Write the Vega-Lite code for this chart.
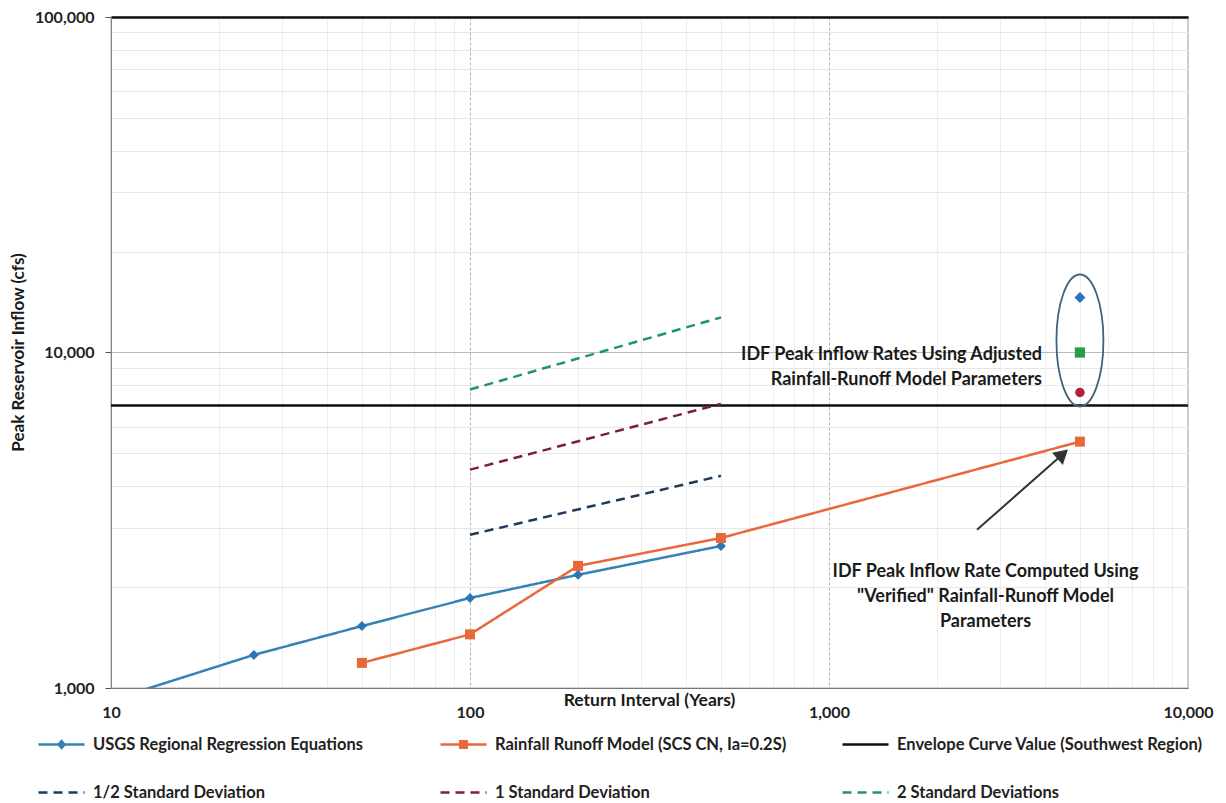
{
  "$schema": "https://vega.github.io/schema/vega-lite/v6.json",
  "autosize": {"type": "none"},
  "padding": {"left": 111, "top": 17, "right": 38, "bottom": 115},
  "width": 1077,
  "height": 671,
  "background": "white",
  "config": {
    "font": "Lato",
    "view": {"stroke": "#666", "strokeWidth": 1.2}
  },
  "datasets": {
    "lines": [
      {"series": "USGS Regional Regression Equations", "x": 10, "y": 920},
      {"series": "USGS Regional Regression Equations", "x": 25, "y": 1255},
      {"series": "USGS Regional Regression Equations", "x": 50, "y": 1530},
      {"series": "USGS Regional Regression Equations", "x": 100, "y": 1855},
      {"series": "USGS Regional Regression Equations", "x": 200, "y": 2175},
      {"series": "USGS Regional Regression Equations", "x": 500, "y": 2650},
      {"series": "Rainfall Runoff Model (SCS CN, Ia=0.2S)", "x": 50, "y": 1188},
      {"series": "Rainfall Runoff Model (SCS CN, Ia=0.2S)", "x": 100, "y": 1445},
      {"series": "Rainfall Runoff Model (SCS CN, Ia=0.2S)", "x": 200, "y": 2312},
      {"series": "Rainfall Runoff Model (SCS CN, Ia=0.2S)", "x": 500, "y": 2800},
      {"series": "Rainfall Runoff Model (SCS CN, Ia=0.2S)", "x": 5000, "y": 5425},
      {"series": "Envelope Curve Value (Southwest Region)", "x": 10, "y": 6950},
      {"series": "Envelope Curve Value (Southwest Region)", "x": 10000, "y": 6950},
      {"series": "1/2 Standard Deviation", "x": 100, "y": 2862},
      {"series": "1/2 Standard Deviation", "x": 500, "y": 4290},
      {"series": "1 Standard Deviation", "x": 100, "y": 4475},
      {"series": "1 Standard Deviation", "x": 500, "y": 7030},
      {"series": "2 Standard Deviations", "x": 100, "y": 7757},
      {"series": "2 Standard Deviations", "x": 500, "y": 12720}
    ],
    "idf": [
      {"kind": "high", "x": 5000, "y": 14590},
      {"kind": "mid", "x": 5000, "y": 10000},
      {"kind": "low", "x": 5000, "y": 7600}
    ],
    "oval": [{"x": 5000, "y": 10860}],
    "noteRight": [{"x": 3920, "y": 9830, "text": "IDF Peak  Inflow Rates Using Adjusted\nRainfall-Runoff Model Parameters"}],
    "noteCenter": [{"x": 2729, "y": 2220, "text": "IDF Peak  Inflow Rate Computed Using\n\"Verified\" Rainfall-Runoff Model\nParameters"}],
    "arrow": [{"x": 2584, "y": 2962, "x2": 4477, "y2": 4975}]
  },
  "layer": [
    {
      "data": {"name": "lines"},
      "mark": {"type": "line", "clip": true},
      "encoding": {
        "x": {
          "field": "x", "type": "quantitative",
          "scale": {"type": "log", "domain": [10, 10000], "nice": false},
          "axis": {
            "values": [10,20,30,40,50,60,70,80,90,100,200,300,400,500,600,700,800,900,1000,2000,3000,4000,5000,6000,7000,8000,9000,10000],
            "title": "Return Interval (Years)",
            "titleFont": "Lato", "titleFontSize": 17.5, "titleFontWeight": "bold", "titleColor": "#1a1a1a",
            "titleX": 538, "titleY": 12, "titleAlign": "center", "titleBaseline": "middle", "titleAnchor": null,
            "labelExpr": "indexof([10,100,1000,10000], datum.value) >= 0 ? format(datum.value, ',') : ''",
            "labelFont": "Lato", "labelFontSize": 16, "labelFontWeight": "bold", "labelColor": "#222",
            "labelPadding": 16, "labelFlush": false, "labelOverlap": false,
            "ticks": false,
            "domainColor": "#777",
            "gridColor": {"condition": {"test": "indexof([100,1000], datum.value) >= 0", "value": "#b0b0b0"}, "value": "#e6e6e6"},
            "gridDash": {"condition": {"test": "indexof([100,1000], datum.value) >= 0", "value": [3, 2]}, "value": [1, 0]}
          }
        },
        "y": {
          "field": "y", "type": "quantitative",
          "scale": {"type": "log", "domain": [1000, 100000], "nice": false},
          "axis": {
            "values": [1000,2000,3000,4000,5000,6000,7000,8000,9000,10000,20000,30000,40000,50000,60000,70000,80000,90000,100000],
            "title": "Peak Reservoir Inflow (cfs)",
            "titleFont": "Lato", "titleFontSize": 17, "titleFontWeight": "bold", "titleColor": "#1a1a1a",
            "titleX": -93, "titleY": 335, "titleAngle": -90, "titleAlign": "center", "titleBaseline": "middle",
            "labelExpr": "indexof([1000,10000,100000], datum.value) >= 0 ? format(datum.value, ',') : ''",
            "labelFont": "Lato", "labelFontSize": 16, "labelFontWeight": "bold", "labelColor": "#222",
            "labelPadding": 11, "labelFlush": false, "labelOverlap": false,
            "tickSize": 6, "tickColor": "#555",
            "tickOpacity": {"condition": {"test": "indexof([1000,10000,100000], datum.value) >= 0", "value": 1}, "value": 0},
            "domainColor": "#888",
            "gridColor": {"condition": [{"test": "datum.value === 100000", "value": "#111"}, {"test": "datum.value === 10000", "value": "#bbbbbb"}], "value": "#e6e6e6"},
            "gridWidth": {"condition": {"test": "datum.value === 100000", "value": 2.5}, "value": 1}
          }
        },
        "color": {
          "field": "series", "type": "nominal",
          "scale": {
            "domain": ["USGS Regional Regression Equations", "Rainfall Runoff Model (SCS CN, Ia=0.2S)", "Envelope Curve Value (Southwest Region)", "1/2 Standard Deviation", "1 Standard Deviation", "2 Standard Deviations"],
            "range": ["#3682b4", "#e8683a", "#111111", "#1f3a5c", "#7a1f3d", "#1f9470"]
          },
          "legend": {
            "title": null, "orient": "none", "legendX": -74, "legendY": 703,
            "direction": "horizontal", "columns": 3, "gridAlign": "all",
            "columnPadding": 36, "rowPadding": 15, "padding": 0,
            "symbolType": "stroke", "symbolSize": 2116, "symbolStrokeWidth": 2,
            "labelFont": "Lato", "labelFontSize": 16.5, "labelFontWeight": "bold", "labelColor": "#222",
            "labelLimit": 600, "labelOffset": 7,
            "encode": {
              "symbols": {
                "update": {
                  "shape": {"signal": "datum.value === 'USGS Regional Regression Equations' ? 'M-1,0H1M0,-0.15L0.13,0L0,0.15L-0.13,0Z' : datum.value === 'Rainfall Runoff Model (SCS CN, Ia=0.2S)' ? 'M-1,0H1M-0.14,-0.14H0.14V0.14H-0.14Z' : 'M-1,0H1'"},
                  "fill": {"signal": "datum.value === 'USGS Regional Regression Equations' ? '#2a77b8' : datum.value === 'Rainfall Runoff Model (SCS CN, Ia=0.2S)' ? '#e8683a' : 'transparent'"},
                  "strokeDash": {"signal": "indexof(['1/2 Standard Deviation','1 Standard Deviation','2 Standard Deviations'], datum.value) >= 0 ? [9,5] : [1,0]"},
                  "strokeWidth": {"signal": "indexof(['USGS Regional Regression Equations','Rainfall Runoff Model (SCS CN, Ia=0.2S)'], datum.value) >= 0 ? 2.5 : 3.5"},
                  "size": {"value": 2116}
                }
              }
            }
          }
        },
        "strokeDash": {
          "field": "series", "type": "nominal",
          "scale": {
            "domain": ["USGS Regional Regression Equations", "Rainfall Runoff Model (SCS CN, Ia=0.2S)", "Envelope Curve Value (Southwest Region)", "1/2 Standard Deviation", "1 Standard Deviation", "2 Standard Deviations"],
            "range": [[1, 0], [1, 0], [1, 0], [9, 6], [9, 6], [9, 6]]
          },
          "legend": null
        },
        "strokeWidth": {
          "field": "series", "type": "nominal",
          "scale": {
            "domain": ["USGS Regional Regression Equations", "Rainfall Runoff Model (SCS CN, Ia=0.2S)", "Envelope Curve Value (Southwest Region)", "1/2 Standard Deviation", "1 Standard Deviation", "2 Standard Deviations"],
            "range": [2.5, 2.5, 3.5, 3.5, 3.5, 3.5]
          },
          "legend": null
        }
      }
    },
    {
      "data": {"name": "lines"},
      "transform": [{"filter": "datum.series === 'USGS Regional Regression Equations'"}],
      "mark": {"type": "point", "shape": "diamond", "filled": true, "size": 100, "color": "#2a77b8", "opacity": 1, "clip": true},
      "encoding": {
        "x": {"field": "x", "type": "quantitative"},
        "y": {"field": "y", "type": "quantitative"}
      }
    },
    {
      "data": {"name": "lines"},
      "transform": [{"filter": "datum.series === 'Rainfall Runoff Model (SCS CN, Ia=0.2S)'"}],
      "mark": {"type": "point", "shape": "square", "filled": true, "size": 100, "color": "#e8683a", "opacity": 1, "clip": true},
      "encoding": {
        "x": {"field": "x", "type": "quantitative"},
        "y": {"field": "y", "type": "quantitative"}
      }
    },
    {
      "data": {"name": "idf"},
      "mark": {"type": "point", "filled": true, "opacity": 1},
      "encoding": {
        "x": {"field": "x", "type": "quantitative"},
        "y": {"field": "y", "type": "quantitative"},
        "shape": {"field": "kind", "type": "nominal", "scale": {"domain": ["high", "mid", "low"], "range": ["diamond", "square", "circle"]}, "legend": null},
        "fill": {"field": "kind", "type": "nominal", "scale": {"domain": ["high", "mid", "low"], "range": ["#2a72c4", "#2a9a4c", "#b01f3c"]}, "legend": null},
        "size": {"field": "kind", "type": "nominal", "scale": {"domain": ["high", "mid", "low"], "range": [120, 90, 170]}, "legend": null}
      }
    },
    {
      "data": {"name": "oval"},
      "mark": {"type": "point", "shape": "M0,-1A0.356,1 0 1,1 0,1A0.356,1 0 1,1 0,-1Z", "size": 17424, "filled": false, "stroke": "#3e6478", "strokeWidth": 1.8, "opacity": 1},
      "encoding": {
        "x": {"field": "x", "type": "quantitative"},
        "y": {"field": "y", "type": "quantitative"}
      }
    },
    {
      "data": {"name": "arrow"},
      "mark": {"type": "rule", "color": "#333", "strokeWidth": 2},
      "encoding": {
        "x": {"field": "x", "type": "quantitative"},
        "y": {"field": "y", "type": "quantitative"},
        "x2": {"field": "x2"},
        "y2": {"field": "y2"}
      }
    },
    {
      "data": {"name": "arrow"},
      "mark": {"type": "point", "shape": "triangle-up", "filled": true, "size": 260, "color": "#333", "opacity": 1, "angle": 48.7},
      "encoding": {
        "x": {"field": "x2", "type": "quantitative"},
        "y": {"field": "y2", "type": "quantitative"}
      }
    },
    {
      "data": {"name": "noteRight"},
      "mark": {"type": "text", "lineBreak": "\n", "align": "right", "baseline": "middle", "font": "Lato", "fontSize": 18, "fontWeight": "bold", "color": "#1a1a1a", "lineHeight": 25},
      "encoding": {
        "x": {"field": "x", "type": "quantitative"},
        "y": {"field": "y", "type": "quantitative"},
        "text": {"field": "text", "type": "nominal"}
      }
    },
    {
      "data": {"name": "noteCenter"},
      "mark": {"type": "text", "lineBreak": "\n", "align": "center", "baseline": "middle", "font": "Lato", "fontSize": 18, "fontWeight": "bold", "color": "#1a1a1a", "lineHeight": 25},
      "encoding": {
        "x": {"field": "x", "type": "quantitative"},
        "y": {"field": "y", "type": "quantitative"},
        "text": {"field": "text", "type": "nominal"}
      }
    }
  ]
}
